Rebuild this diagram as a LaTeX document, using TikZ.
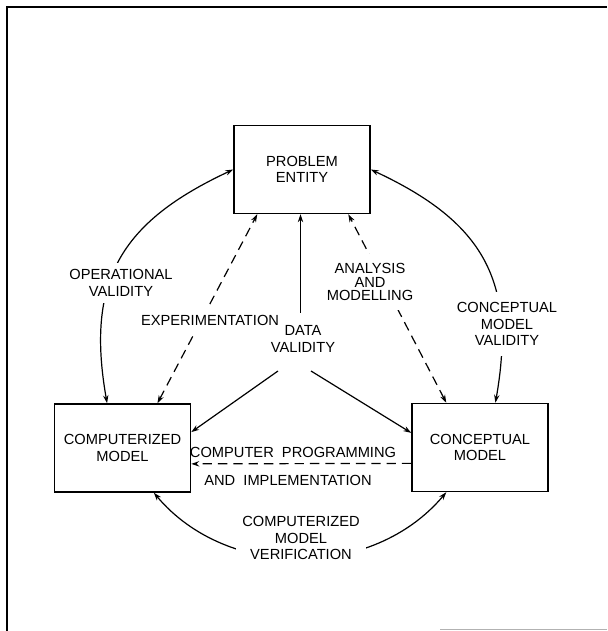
\documentclass[tikz,border=0pt]{standalone}
\usepackage{fontspec}
\setmainfont{Liberation Sans}
\usetikzlibrary{arrows.meta, positioning, calc}
\newcommand{\diagfont}{\fontsize{11}{12.5}\selectfont}

\begin{document}
\begin{tikzpicture}
  [
    x=0.75pt, y=0.75pt,
    Box/.style={rectangle, draw=black, line width=1.1pt, minimum width=102pt, minimum height=66pt, align=center, font=\diagfont},
    Txt/.style={align=center, font=\diagfont},
    Cut/.style={Txt, fill=white, inner sep=5pt},
    Link/.style={line width=0.9pt, -{Stealth[length=6pt,width=4pt]}},
    Both/.style={line width=0.9pt, {Stealth[length=6pt,width=4pt]}-{Stealth[length=6pt,width=4pt]}},
    Dash/.style={dash pattern=on 7pt off 4.5pt}
  ]
  \useasboundingbox (0,0) rectangle (607,631);

  % Frame
  \draw[line width=1.3pt] (7,0) -- (7,624) -- (607,624);
  \draw[gray!60, line width=1pt] (440,1.5) -- (607,1.5);

  % Nodes
  \node[Box] (pe) at (302,461.5) {PROBLEM\\ENTITY};

  \node[Box] (cm) at (122.5,183) {COMPUTERIZED\\MODEL};

  \node[Box] (conc) at (480,183.5) {CONCEPTUAL\\MODEL};

  \node[Txt] (dv) at (303,292) {DATA\\VALIDITY};
  \coordinate (dvt) at ($(dv)+(-2.5,26)$);
  \coordinate (dvl) at ($(dv)+(-25,-32)$);
  \coordinate (dvr) at ($(dv)+(8,-32)$);


  % Lines
  \draw[Both] (cm.109) to[out=100, in=205, looseness=1.2] (pe.180);
  \draw[Both] (conc.71) to[out=80, in=-25, looseness=1.2] (pe.0);
  \draw[Both, Dash] (cm.52) -- (pe.225);
  \draw[Both, Dash] (conc.127) -- (pe.316);
  \draw[Link] (dvt) -- (dvt |- pe.south);
  \draw[Link] (dvl) -- (cm.13);
  \draw[Link] (dvr) -- (conc.168);
  \draw[Link, Dash] (conc.193) -- (cm.347);
  \draw[Both] (cm.305) to[out=-50, in=230] (conc.233);

  % Labels
  \node[Cut] (opv) at (121,348) {OPERATIONAL\\VALIDITY};

  \node[Cut, inner ysep=8pt] (cmvl) at (507,307) {CONCEPTUAL\\MODEL\\VALIDITY};

  \node[Cut, inner xsep=1pt, inner ysep=6pt] (exper) at (210,311) {EXPERIMENTATION};

  \node[Cut, inner ysep=7pt] (anmod) at (370,349) {ANALYSIS\\[-2.5pt]AND\\[-2.5pt]MODELLING};

  \node[Cut] (verif) at (301,93) {COMPUTERIZED\\MODEL\\VERIFICATION};

  \node[Txt] (cprog) at (293,179) {COMPUTER\ \ PROGRAMMING};

  \node[Txt] (implm) at (288,151) {AND\ \ IMPLEMENTATION};

\end{tikzpicture}
\end{document}
